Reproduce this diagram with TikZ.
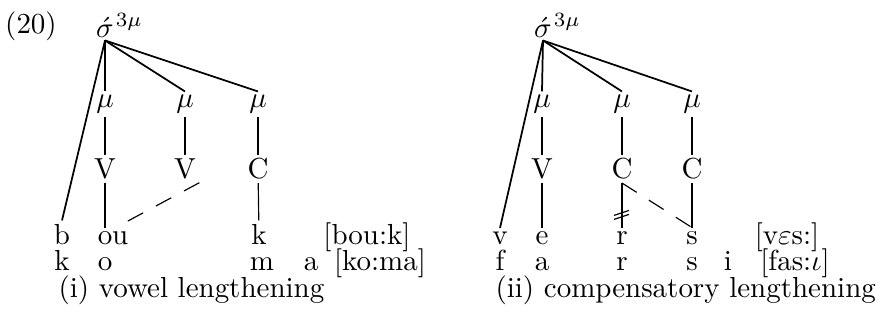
\documentclass[tikz,border=0pt]{standalone}
\usepackage{amsmath,amssymb}
\usepackage{tikz}
\usetikzlibrary{positioning}
\tikzset{
  seg/.style={anchor=base, inner sep=1pt},
  tier/.style={inner sep=1pt},
  supscr/.style={anchor=base west, inner sep=0pt, font=\scriptsize},
  link/.style={line width=0.4pt},
  rootlink/.style={line width=0.6pt},
  spread/.style={line width=0.4pt, dash pattern=on 6pt off 5pt},
  caption/.style={anchor=base west, inner sep=0pt},
}

\begin{document}
\begin{tikzpicture}[x=0.345pt, y=-0.345pt]
  \useasboundingbox (0,0) rectangle (880,330);

  % Example number
  \node[seg] (num) at (31,33) {(20)};

  % (i) Syllable and moras
  \node[tier, anchor=base] (sigL) at (105,37) {$\acute{\sigma}$};
  \node[supscr] (supL) at ([xshift=-0.7pt, yshift=3.6pt]sigL.base east) {$3\mu$};
  \node[tier] (muL1) at (105,104) {$\mu$};
  \node[tier] (muL2) at (185,104) {$\mu$};
  \node[tier] (muL3) at (258,104) {$\mu$};

  % (i) Skeleton
  \node[tier] (skL1) at (105,169) {V};
  \node[tier] (skL2) at (185,169) {V};
  \node[tier] (skL3) at (258,169) {C};

  % (i) Segment rows
  \node[seg] (bouB) at (62,244) {b};
  \node[seg] (bouOU) at (105,244) {o\rlap{u}};
  \node[seg] (bouK) at (259,244) {k};
  \node[seg] (bouIPA) at (367,244) {[bou:k]};
  \node[seg] (komK) at (62,270) {k};
  \node[seg] (komO) at (105,270) {o};
  \node[seg] (komM) at (262,270) {m};
  \node[seg] (komA) at (311,270) {a};
  \node[seg] (komIPA) at (380,270) {[ko:ma]};
  \node[caption] (capL) at (58,297) {(i) vowel lengthening};

  % (i) Association lines
  \draw[rootlink] (sigL.south) -- (bouB.north);
  \draw[rootlink] (sigL.south) -- (muL1.north);
  \draw[rootlink] (sigL.south) -- (muL2.north);
  \draw[rootlink] (sigL.south) -- (muL3.north);
  \draw[link] (muL1) -- (skL1);
  \draw[link] (muL2) -- (skL2);
  \draw[link] (muL3) -- (skL3);
  \draw[link] (skL1) -- (bouOU);
  \draw[link] (skL3) -- (bouK);
  \draw[spread] (skL2.south east) -- (bouOU.north east);

  % (ii) Syllable and moras
  \node[tier, anchor=base] (sigR) at (543,37) {$\acute{\sigma}$};
  \node[supscr] (supR) at ([xshift=-0.7pt, yshift=3.6pt]sigR.base east) {$3\mu$};
  \node[tier] (muR1) at (542,104) {$\mu$};
  \node[tier] (muR2) at (622,104) {$\mu$};
  \node[tier] (muR3) at (692,104) {$\mu$};

  % (ii) Skeleton
  \node[tier] (skR1) at (542,169) {V};
  \node[tier] (skR2) at (622,169) {C};
  \node[tier] (skR3) at (692,169) {C};

  % (ii) Segment rows
  \node[seg] (vesV) at (500,244) {v};
  \node[seg] (vesE) at (542,244) {e};
  \node[seg] (vesR) at (622,244) {r};
  \node[seg] (vesS) at (692,244) {s};
  \node[seg] (vesIPA) at (787,244) {[v$\varepsilon$s:]};
  \node[seg] (farF) at (500,270) {f};
  \node[seg] (farA) at (542,270) {a};
  \node[seg] (farR) at (622,270) {r};
  \node[seg] (farS) at (692,270) {s};
  \node[seg] (farI) at (728,270) {i};
  \node[seg] (farIPA) at (795,270) {[fas:$\iota$]};
  \node[caption] (capR) at (495,297) {(ii) compensatory lengthening};

  % (ii) Association lines
  \draw[rootlink] (sigR.south) -- (vesV.north);
  \draw[rootlink] (sigR.south) -- (muR1.north);
  \draw[rootlink] (sigR.south) -- (muR2.north);
  \draw[rootlink] (sigR.south) -- (muR3.north);
  \draw[link] (muR1) -- (skR1);
  \draw[link] (muR2) -- (skR2);
  \draw[link] (muR3) -- (skR3);
  \draw[link] (skR1) -- (vesE);
  \draw[link] (skR2) -- (vesR) coordinate[pos=0.68] (cut);
  \draw[link] (skR3) -- (vesS);
  \draw[spread] (skR2.south) -- (vesS.north);

  % delinking mark
  \draw[link] ([shift={(-8,2)}]cut) -- ++(15,-5);
  \draw[link] ([shift={(-8,6)}]cut) -- ++(15,-5);
\end{tikzpicture}
\end{document}
